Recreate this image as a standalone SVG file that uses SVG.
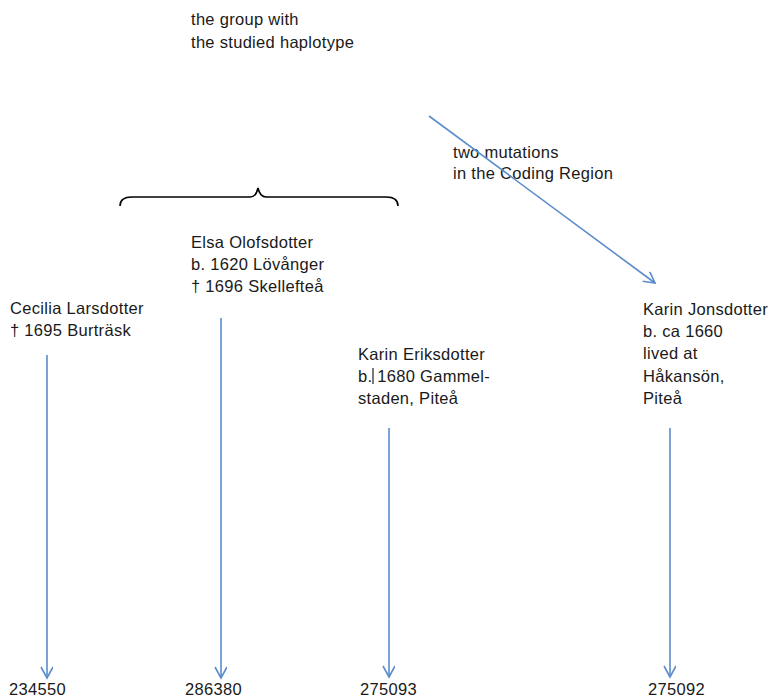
<svg xmlns="http://www.w3.org/2000/svg" width="777" height="698" viewBox="0 0 777 698">
<style>
text { font-family: "Liberation Sans", Arial, sans-serif; font-size: 16.5px; letter-spacing: 0.3px; fill: #1a1a1a; }
.arr { stroke: #5b8ccb; stroke-width: 1.6; fill: none; marker-end: url(#ah); }
.brace { stroke: #000; stroke-width: 1.6; fill: none; }
</style>
<defs>
<marker id="ah" markerWidth="16" markerHeight="16" refX="12" refY="6" orient="auto" markerUnits="userSpaceOnUse">
<path d="M1,0 L12,6 L1,12" stroke="#5b8ccb" stroke-width="1.6" fill="none"/>
</marker>
</defs>
<rect width="777" height="698" fill="#fff"/>
<g id="group-label">
<text x="191" y="25">the group with</text>
<text x="191" y="48">the studied haplotype</text>
</g>
<g id="brace">
<path class="brace" d="M120,206 Q120,197 132,197 L250,197 Q256,197 258,188 Q260,197 266,197 L386,197 Q398,197 398,206"/>
</g>
<g id="mutation-label">
<text x="453" y="158">two mutations</text>
<text x="453" y="179">in the Coding Region</text>
</g>
<g id="elsa">
<text x="191" y="248">Elsa Olofsdotter</text>
<text x="191" y="270">b. 1620 Lövånger</text>
<text x="191" y="292">† 1696 Skellefteå</text>
</g>
<g id="cecilia">
<text x="10" y="314">Cecilia Larsdotter</text>
<text x="10" y="336">† 1695 Burträsk</text>
</g>
<g id="karin-eriksdotter">
<text x="358" y="360">Karin Eriksdotter</text>
<text x="358" y="382">b. 1680 Gammel-</text>
<text x="358" y="404">staden, Piteå</text>
<line x1="373" y1="368" x2="373" y2="384" stroke="#222" stroke-width="1.2"/>
</g>
<g id="karin-jonsdotter">
<text x="643" y="315">Karin Jonsdotter</text>
<text x="643" y="337">b. ca 1660</text>
<text x="643" y="359">lived at</text>
<text x="643" y="382">Håkansön,</text>
<text x="643" y="404">Piteå</text>
</g>
<g id="n234550"><text x="9" y="695">234550</text></g>
<g id="n286380"><text x="185" y="695">286380</text></g>
<g id="n275093"><text x="360" y="695">275093</text></g>
<g id="n275092"><text x="648" y="695">275092</text></g>
<g id="connectors">
<line class="arr" x1="429" y1="116" x2="655" y2="283"/>
<line class="arr" x1="47" y1="355" x2="47" y2="678"/>
<line class="arr" x1="221" y1="318" x2="221" y2="678"/>
<line class="arr" x1="389" y1="428" x2="389" y2="677"/>
<line class="arr" x1="670" y1="428" x2="670" y2="677"/>
</g>
</svg>
